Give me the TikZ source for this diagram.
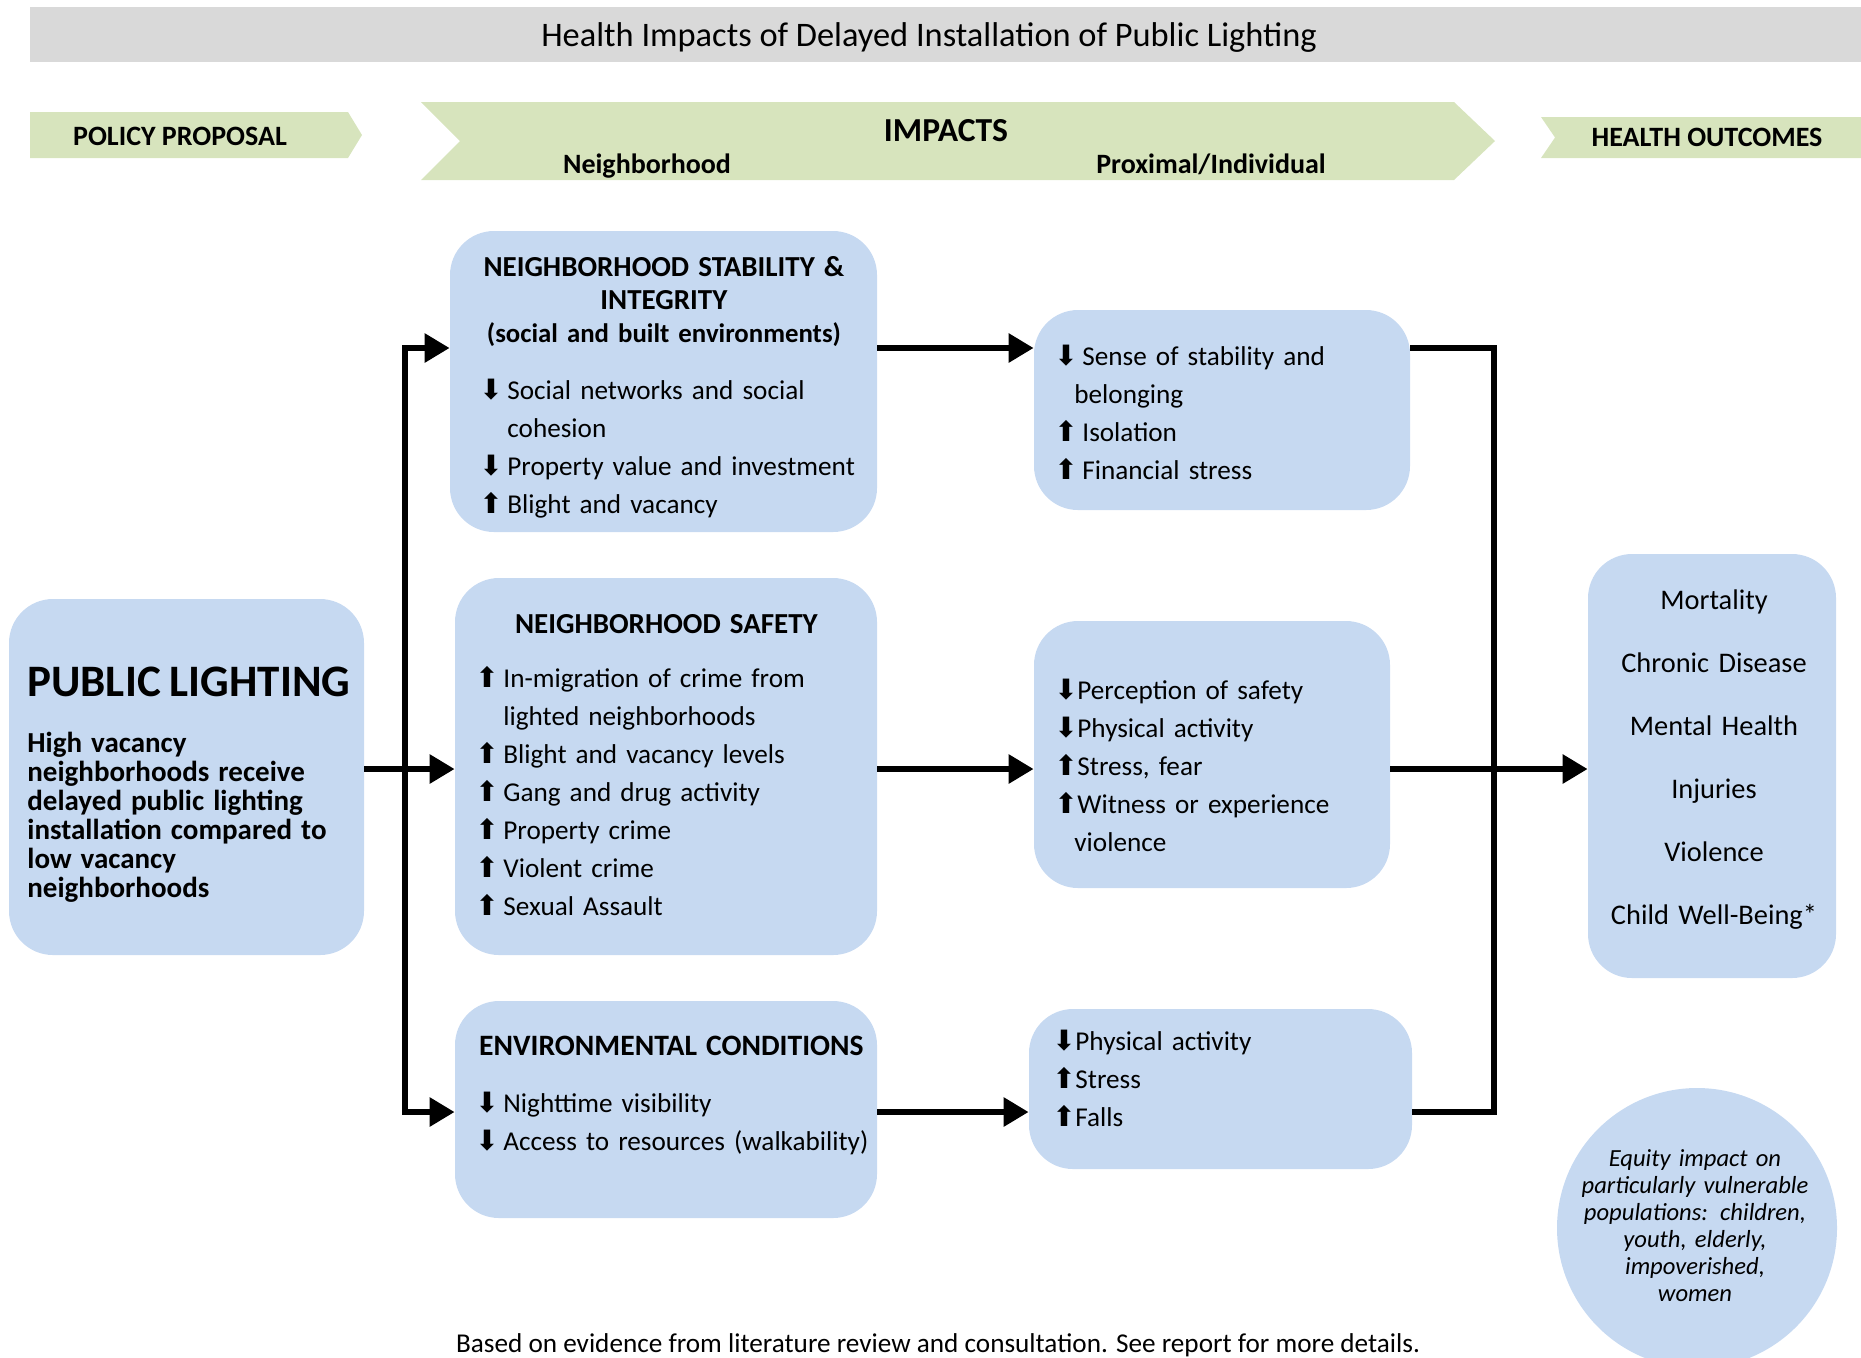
\documentclass[tikz,border=0pt]{standalone}
\usepackage{fontspec}
\setmainfont{Carlito}
\newfontfamily\arrowfont{DejaVu Sans}
\usetikzlibrary{arrows.meta}

\definecolor{boxblue}{RGB}{198,217,241}
\definecolor{bandgreen}{RGB}{215,228,189}
\definecolor{bargray}{RGB}{217,217,217}

\hyphenpenalty=10000
\exhyphenpenalty=10000
\newcommand{\upar}[1][14pt]{\makebox[#1][l]{\arrowfont\fontsize{14}{12}\selectfont ⬆}}
\newcommand{\dnar}[1][14pt]{\makebox[#1][l]{\arrowfont\fontsize{14}{12}\selectfont ⬇}}
\newcommand{\contline}{\hspace*{14pt}}
\newcommand{\boxhead}[2]{\makebox[#1][c]{\bfseries\fontsize{14.5}{16.5}\selectfont #2}}

\begin{document}
\begin{tikzpicture}[x=0.5pt,y=-0.5pt,
    box/.style={fill=boxblue,rounded corners=22pt,inner sep=0pt},
    body/.style={anchor=base west,inner sep=0pt,align=left,text width=240pt,font=\fontsize{13.6}{19}\selectfont},
    band/.style={anchor=base,inner sep=0pt,font=\bfseries\fontsize{14}{17}\selectfont},
    link/.style={line width=3pt},
    arr/.style={line width=3pt,-{Triangle[length=12.5pt,width=14pt]}},
    arrs/.style={line width=3pt,{Triangle[length=12.5pt,width=14pt]}-{Triangle[length=12.5pt,width=14pt]}}]
    \useasboundingbox (0,0) rectangle (1861,1357);

    \fill[bargray] (30,7) rectangle (1861,62);
    \node[anchor=base,font=\fontsize{17.2}{20}\selectfont] (title) at (929,46) {Health Impacts of Delayed Installation of Public Lighting};

    \fill[bandgreen] (30,112) -- (348,112) -- (362,135) -- (348,158) -- (30,158) -- cycle;
    \fill[bandgreen] (421,102) -- (1454,102) -- (1495,141) -- (1454,180) -- (421,180) -- (460,141) -- cycle;
    \fill[bandgreen] (1541,117) -- (1870,117) -- (1870,158) -- (1541,158) -- (1555,137.5) -- cycle;
    \node[band] (policy) at (180,145) {POLICY PROPOSAL};
    \node[band,font=\bfseries\fontsize{16.8}{20}\selectfont] (impacts) at (946,141) {IMPACTS};
    \node[band] (nbhd) at (647,173) {Neighborhood};
    \node[band] (proximal) at (1211,173) {Proximal/Individual};
    \node[band] (outhead) at (1707,146) {HEALTH OUTCOMES};

    \node[box,minimum width=177.5pt,minimum height=178pt] (lighting) at (186.5,777) {};
    \node[box,minimum width=213.5pt,minimum height=150.5pt] (stability) at (663.5,381.5) {};
    \node[box,minimum width=211pt,minimum height=188.5pt] (safety) at (666,766.5) {};
    \node[box,minimum width=211pt,minimum height=108.5pt] (environment) at (666,1109.5) {};
    \node[box,minimum width=188pt,minimum height=100pt] (stabfx) at (1222,410) {};
    \node[box,minimum width=178pt,minimum height=133.5pt] (safefx) at (1212,754.5) {};
    \node[box,minimum width=191.5pt,minimum height=80pt] (envfx) at (1220.5,1089) {};
    \node[box,minimum width=124pt,minimum height=212pt] (outcomes) at (1712,766) {};
    \node[circle,fill=boxblue,minimum size=140pt,inner sep=0pt] (equity) at (1697,1228) {};

    \node[body] (lightingtext) at (27,696) {%
        {\bfseries\fontsize{22.5}{26}\selectfont PUBLIC LIGHTING}\\[13.5pt]
        \bfseries\fontsize{14.5}{14.5}\selectfont High vacancy\\
        neighborhoods receive\\
        delayed public lighting\\
        installation compared to\\
        low vacancy\\
        neighborhoods\par};
    \node[body] (stabilitytext) at (479,276) {%
        \boxhead{184.5pt}{NEIGHBORHOOD STABILITY \&}\\[-2.5pt]
        \boxhead{184.5pt}{INTEGRITY}\\[-2.5pt]
        \boxhead{184.5pt}{\fontsize{13.4}{16.5}\selectfont(social and built environments)}\\[9.5pt]
        \dnar Social networks and social\\
        \contline cohesion\\
        \dnar Property value and investment\\
        \upar Blight and vacancy};
    \node[body] (safetytext) at (475,633) {%
        \boxhead{191pt}{NEIGHBORHOOD SAFETY}\\[8pt]
        \upar In-migration of crime from\\
        \contline lighted neighborhoods\\
        \upar Blight and vacancy levels\\
        \upar Gang and drug activity\\
        \upar Property crime\\
        \upar Violent crime\\
        \upar Sexual Assault};
    \node[body] (environmenttext) at (475,1055) {%
        \boxhead{196pt}{\fontsize{14.8}{16.5}\selectfont ENVIRONMENTAL CONDITIONS}\\[9.5pt]
        \dnar Nighttime visibility\\
        \dnar Access to resources (walkability)};
    \node[body] (stabfxtext) at (1054,365) {%
        \dnar Sense of stability and\\
        \hspace*{10pt}belonging\\
        \upar Isolation\\
        \upar Financial stress};
    \node[body] (safefxtext) at (1054,699) {%
        \dnar[11.5pt]Perception of safety\\
        \dnar[11.5pt]Physical activity\\
        \upar[11.5pt]Stress, fear\\
        \upar[11.5pt]Witness or experience\\
        \hspace*{10pt}violence};
    \node[body] (envfxtext) at (1052,1050) {%
        \dnar[11.5pt]Physical activity\\
        \upar[11.5pt]Stress\\
        \upar[11.5pt]Falls};
    \node[body,anchor=base,align=center,text width=124pt,font=\fontsize{14.2}{31.5}\selectfont] (outcomestext) at (1714,609) {%
        Mortality\\ Chronic Disease\\ Mental Health\\ Injuries\\ Violence\\ Child Well-Being*};
    \node[body,anchor=base,align=center,text width=130pt,font=\itshape\fontsize{12.3}{13.5}\selectfont] (equitytext) at (1695,1166) {%
        Equity impact on\\ particularly vulnerable\\ populations: children,\\ youth, elderly,\\ impoverished,\\ women};
    \node[anchor=base,inner sep=0pt,font=\fontsize{13.6}{16}\selectfont] (note) at (938,1352) {Based on evidence from literature review and consultation. See report for more details.};

    \coordinate (upper) at (405,348);
    \coordinate (lower) at (405,1112);
    \coordinate (merge) at (1494,769);
    \draw[arr] (lighting.east |- merge) -- (safety.west |- merge);
    \draw[arrs] (stability.west |- upper) -- (upper) -- (lower) -- (environment.west |- lower);
    \draw[arr] (stability.east |- upper) -- (stabfx.west |- upper);
    \draw[arr] (safety.east |- merge) -- (safefx.west |- merge);
    \draw[arr] (environment.east |- lower) -- (envfx.west |- lower);
    \draw[link] (stabfx.east |- upper) -- (upper -| merge) -- (lower -| merge) -- (envfx.east |- lower);
    \draw[arr] (safefx.east |- merge) -- (outcomes.west |- merge);
\end{tikzpicture}
\end{document}
